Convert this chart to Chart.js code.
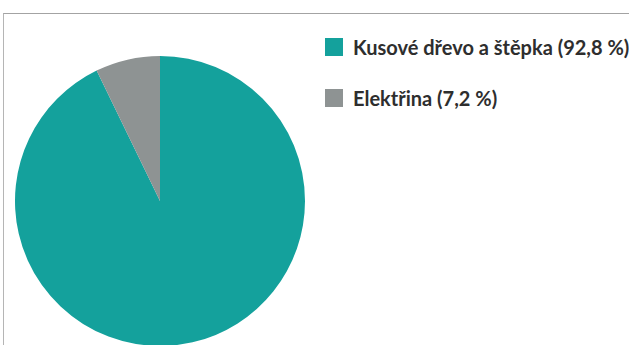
<!DOCTYPE html>
<html lang="cs">
<head>
<meta charset="utf-8">
<script src="https://cdn.jsdelivr.net/npm/chart.js@4/dist/chart.umd.min.js"></script>
<style>
  html, body { margin: 0; padding: 0; background: #fff; }
  #wrap { position: relative; width: 629px; height: 345px; overflow: hidden; }
  #frame {
    position: absolute; left: 3px; top: 13px; right: 0; bottom: 0;
    border-top: 1px solid #a3a3a3; border-left: 1px solid #b5b5b5;
  }
  #graf { position: absolute; left: 15px; top: 56px; }
  #legenda {
    position: absolute; left: 325px; top: 38px; margin: 0; padding: 0;
    list-style: none; font-family: Lato, sans-serif; font-weight: bold;
    font-size: 20px; color: #2e2e2e;
  }
  #legenda li { display: flex; align-items: center; height: 18px; margin-bottom: 33px; white-space: nowrap; }
  #legenda span.box { display: inline-block; width: 18px; height: 18px; margin-right: 10px; }
</style>
</head>
<body>
<div id="wrap">
  <div id="frame"></div>
  <canvas id="graf" width="290" height="290"></canvas>
  <ul id="legenda"></ul>
</div>
<script>
const kategorie = ["Kusové dřevo a štěpka", "Elektřina"];
const podily = [92.8, 7.2];
const barvy = ["#14a19c", "#8e9393"];

// legenda jako HTML seznam vedle koláče
const htmlLegenda = {
  id: "htmlLegenda",
  afterUpdate(chart) {
    const ul = document.getElementById("legenda");
    ul.innerHTML = "";
    const polozky = chart.options.plugins.legend.labels.generateLabels(chart);
    polozky.forEach((item, i) => {
      const li = document.createElement("li");
      const box = document.createElement("span");
      box.className = "box";
      box.style.background = item.fillStyle;
      const txt = document.createElement("span");
      txt.textContent = kategorie[i] + " (" + String(podily[i]).replace(".", ",") + " %)";
      li.appendChild(box);
      li.appendChild(txt);
      ul.appendChild(li);
    });
  },
};

document.addEventListener("DOMContentLoaded", () => {
  const platno = document.getElementById("graf");

  let graf = new Chart(platno, {
    type: "pie",
    data: {
      labels: kategorie,
      datasets: [
        {
          data: podily,
          backgroundColor: barvy,
          borderWidth: 0,
        },
      ],
    },
    options: {
      responsive: false,
      animation: false,
      layout: { padding: 0 },
      plugins: {
        title: { display: false },
        tooltip: { enabled: false },
        legend: { display: false },
      },
    },
    plugins: [htmlLegenda],
  });
});
</script>
</body>
</html>
